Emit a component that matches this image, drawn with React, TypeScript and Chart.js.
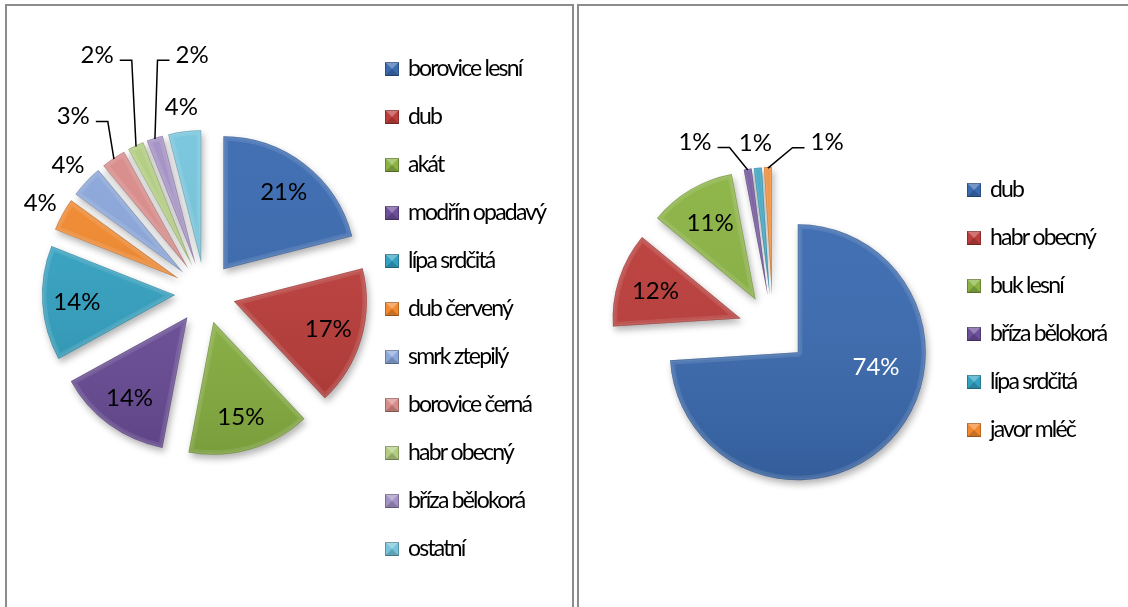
import React, { useEffect, useRef } from "react";
import { Chart, registerables } from "chart.js";

Chart.register(...registerables);

// ---------- data ----------
const leftLabels = [
  "borovice lesní",
  "dub",
  "akát",
  "modřín opadavý",
  "lípa srdčitá",
  "dub červený",
  "smrk ztepilý",
  "borovice černá",
  "habr obecný",
  "bříza bělokorá",
  "ostatní",
];
const leftValues = [21, 17, 15, 14, 14, 4, 4, 3, 2, 2, 4];
const leftColors = [
  "#3A6AB0", "#BC3D3A", "#8AB343", "#6C4E9A", "#33A2C2", "#F2892E",
  "#8AA6DA", "#D98B89", "#B2CD80", "#A390C4", "#76C5DC",
];

const rightLabels = ["dub", "habr obecný", "buk lesní", "bříza bělokorá", "lípa srdčitá", "javor mléč"];
const rightValues = [74, 12, 11, 1, 1, 1];
const rightColors = ["#3A6AB0", "#BC3D3A", "#8AB343", "#6C4E9A", "#33A2C2", "#F2892E"];

// ---------- styles ----------
const PCT_SIZE = 24;
const PCT_FONT = `${PCT_SIZE}px Lato, "Open Sans", sans-serif`;
const LEGEND_FONT = `23px Lato, "Open Sans", sans-serif`;

type Callout = { i: number; dAngle?: number; gap?: number; frac?: number; leader?: boolean; color?: string };

interface PieSpec {
  labels: string[];
  values: number[];
  colors: string[];
  left: number;
  width: number;
  height: number;
  padding: { left: number; right: number; top: number; bottom: number };
  radius: number;
  explode: number;
  insideFrac: number;
  insideMin: number;
  outsideGap: number;
  callouts: Callout[];
  legend: { x: number; y: number; step: number };
}

const leftSpec: PieSpec = {
  labels: leftLabels,
  values: leftValues,
  colors: leftColors,
  left: 0,
  width: 575,
  height: 607,
  padding: { left: 0, right: 165, top: 0, bottom: 21 },
  radius: 133,
  explode: 30,
  insideFrac: 0.74,
  insideMin: 10,
  outsideGap: 25,
  callouts: [
    { i: 7, dAngle: -2.4, gap: 58, leader: true },
    { i: 8, dAngle: 0.9, gap: 99, leader: true },
    { i: 9, dAngle: 14.9, gap: 76, leader: true },
  ],
  legend: { x: 385, y: 76, step: 48 },
};

const rightSpec: PieSpec = {
  labels: rightLabels,
  values: rightValues,
  colors: rightColors,
  left: 576,
  width: 552,
  height: 607,
  padding: { left: 0, right: 158, top: 51, bottom: 0 },
  radius: 128,
  explode: 34,
  insideFrac: 0.7,
  insideMin: 10,
  outsideGap: 25,
  callouts: [
    { i: 0, dAngle: -23.4, frac: 0.59, color: "#ffffff" },
    { i: 3, dAngle: -13.6, gap: 41, leader: true },
    { i: 5, dAngle: 17.9, gap: 33, leader: true },
  ],
  legend: { x: 391, y: 197, step: 48 },
};

function makePlugin(spec: PieSpec) {
  return {
    id: "excelPie",
    afterDatasetsUpdate(chart: any) {
      const ca = chart.chartArea;
      const cx = (ca.left + ca.right) / 2;
      const cy = (ca.top + ca.bottom) / 2;
      const meta = chart.getDatasetMeta(0);
      meta.data.forEach((arc: any) => {
        const mid = (arc.startAngle + arc.endAngle) / 2;
        arc.x = cx + spec.explode * Math.cos(mid);
        arc.y = cy + spec.explode * Math.sin(mid);
      });
    },
    beforeDatasetsDraw(chart: any) {
      const ctx = chart.ctx;
      ctx.save();
      ctx.shadowColor = "rgba(0,0,0,0.30)";
      ctx.shadowBlur = 7;
      ctx.shadowOffsetX = 2;
      ctx.shadowOffsetY = 4;
    },
    afterDatasetsDraw(chart: any) {
      const ctx = chart.ctx;
      ctx.restore();
      const ca = chart.chartArea;
      const cx = (ca.left + ca.right) / 2;
      const cy = (ca.top + ca.bottom) / 2;
      const meta = chart.getDatasetMeta(0);
      const R = spec.radius;
      // subtle bevel
      meta.data.forEach((arc: any) => {
        ctx.save();
        ctx.beginPath();
        ctx.moveTo(arc.x, arc.y);
        ctx.arc(arc.x, arc.y, arc.outerRadius, arc.startAngle, arc.endAngle);
        ctx.closePath();
        ctx.clip();
        const g = ctx.createLinearGradient(0, arc.y - R, 0, arc.y + R);
        g.addColorStop(0, "rgba(255,255,255,0.04)");
        g.addColorStop(1, "rgba(0,0,0,0.12)");
        ctx.fillStyle = g;
        ctx.fill();
        ctx.lineJoin = "round";
        ctx.strokeStyle = "rgba(255,255,255,0.10)";
        ctx.lineWidth = 9;
        ctx.stroke();
        ctx.strokeStyle = "rgba(255,255,255,0.08)";
        ctx.lineWidth = 4;
        ctx.stroke();
        ctx.strokeStyle = "rgba(0,0,0,0.16)";
        ctx.lineWidth = 1.5;
        ctx.stroke();
        ctx.restore();
      });
      // labels
      const total = spec.values.reduce((a, b) => a + b, 0);
      ctx.save();
      ctx.font = PCT_FONT;
      ctx.textAlign = "center";
      ctx.textBaseline = "alphabetic";
      meta.data.forEach((arc: any, i: number) => {
        const mid = (arc.startAngle + arc.endAngle) / 2;
        const pct = (spec.values[i] / total) * 100;
        const text = Math.round(pct) + "%";
        const co = spec.callouts.find((c) => c.i === i);
        const ang = mid + ((co?.dAngle ?? 0) * Math.PI) / 180;
        const inside = pct >= spec.insideMin;
        const dist = inside
          ? spec.explode + (co?.frac ?? spec.insideFrac) * R
          : spec.explode + R + (co?.gap ?? spec.outsideGap);
        const lx = cx + dist * Math.cos(ang);
        const ly = cy + dist * Math.sin(ang);
        ctx.fillStyle = co?.color ?? "#000000";
        ctx.fillText(text, lx, ly + 0.36 * PCT_SIZE);
        if (co?.leader) {
          const w = ctx.measureText(text).width;
          const ax = cx + (spec.explode + R - 1) * Math.cos(mid);
          const ay = cy + (spec.explode + R - 1) * Math.sin(mid);
          const dir = ax > lx ? 1 : -1;
          const sx = lx + dir * (w / 2 + 6);
          const yy = ly + 6;
          ctx.beginPath();
          ctx.moveTo(sx, yy);
          ctx.lineTo(sx + dir * 12, yy);
          ctx.lineTo(ax, ay);
          ctx.strokeStyle = "#000000";
          ctx.lineWidth = 1.5;
          ctx.stroke();
        }
      });
      ctx.restore();
    },
    afterDraw(chart: any) {
      const ctx = chart.ctx;
      const { x, y, step } = spec.legend;
      const s = 14;
      ctx.save();
      ctx.font = LEGEND_FONT;
      (ctx as any).letterSpacing = "-1.8px";
      ctx.textAlign = "left";
      ctx.textBaseline = "alphabetic";
      spec.labels.forEach((lab, i) => {
        const by = y + i * step;
        const top = by - s;
        ctx.fillStyle = spec.colors[i];
        ctx.fillRect(x, top, s, s);
        ctx.beginPath();
        ctx.moveTo(x, top);
        ctx.lineTo(x + s, top);
        ctx.lineTo(x + s / 2, top + s / 2);
        ctx.closePath();
        ctx.fillStyle = "rgba(255,255,255,0.30)";
        ctx.fill();
        ctx.beginPath();
        ctx.moveTo(x, top + s);
        ctx.lineTo(x + s, top + s);
        ctx.lineTo(x + s / 2, top + s / 2);
        ctx.closePath();
        ctx.fillStyle = "rgba(0,0,0,0.18)";
        ctx.fill();
        ctx.strokeStyle = "rgba(0,0,0,0.25)";
        ctx.lineWidth = 1;
        ctx.strokeRect(x + 0.5, top + 0.5, s - 1, s - 1);
        ctx.fillStyle = "#000000";
        ctx.fillText(lab, x + s + 9, by);
      });
      ctx.restore();
    },
  };
}

function PieCanvas({ spec }: { spec: PieSpec }) {
  const ref = useRef<HTMLCanvasElement | null>(null);
  useEffect(() => {
    if (!ref.current) return;
    const chart = new Chart(ref.current, {
      type: "pie",
      data: {
        labels: spec.labels,
        datasets: [
          {
            data: spec.values,
            backgroundColor: spec.colors,
            borderWidth: 0,
          },
        ],
      },
      options: {
        responsive: false,
        animation: false,
        events: [],
        radius: spec.radius,
        layout: { padding: spec.padding },
        plugins: { legend: { display: false }, tooltip: { enabled: false } },
      } as any,
      plugins: [makePlugin(spec)],
    });
    return () => chart.destroy();
  }, [spec]);
  return (
    <canvas
      ref={ref}
      width={spec.width}
      height={spec.height}
      style={{ position: "absolute", left: spec.left, top: 0, width: spec.width, height: spec.height }}
    />
  );
}

export default function App() {
  return (
    <div style={{ position: "absolute", left: 0, top: 0, width: 1128, height: 607, overflow: "hidden", background: "#fff" }}>
      <div
        style={{
          position: "absolute",
          left: 5,
          top: 4,
          width: 569,
          height: 700,
          border: "2px solid #8c8c8c",
          boxSizing: "border-box",
        }}
      />
      <div
        style={{
          position: "absolute",
          left: 577,
          top: 4,
          width: 700,
          height: 700,
          border: "2px solid #8c8c8c",
          boxSizing: "border-box",
        }}
      />
      <PieCanvas spec={leftSpec} />
      <PieCanvas spec={rightSpec} />
    </div>
  );
}
